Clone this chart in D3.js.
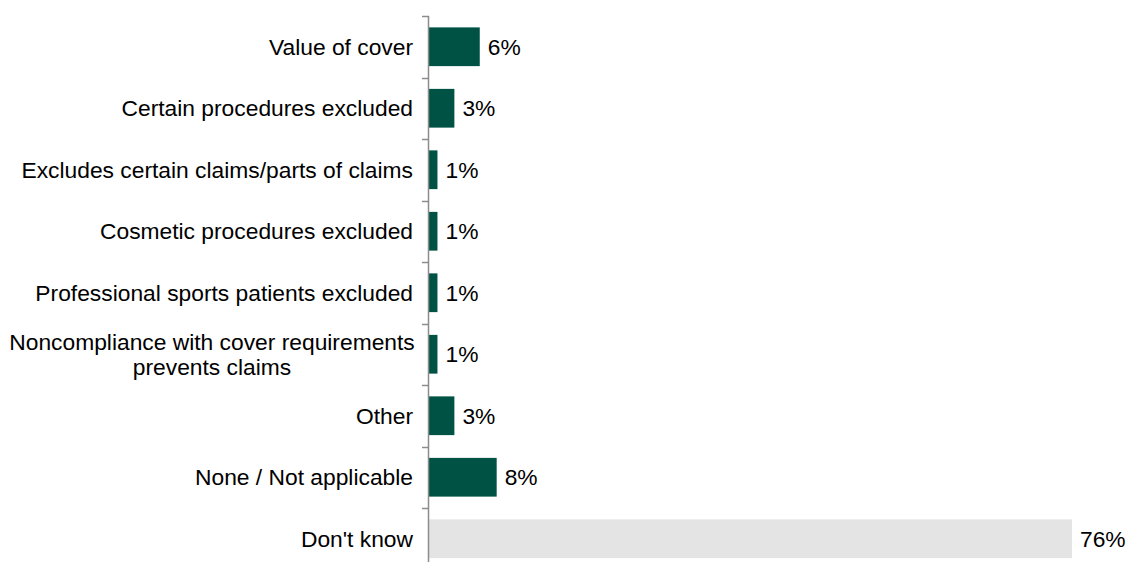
<!DOCTYPE html>
<html>
<head>
<meta charset="utf-8">
<script src="https://cdn.jsdelivr.net/npm/d3@7"></script>
<style>
  html, body { margin: 0; padding: 0; background: #fff; }
  svg { display: block; }
  text { font-family: "Liberation Sans", Arial, sans-serif; fill: #000; }
</style>
</head>
<body>
<svg id="chart" width="1129" height="562"></svg>
<script>
// Reasons / issues with cover (percent of respondents)
const categories = [
  "Value of cover",
  "Certain procedures excluded",
  "Excludes certain claims/parts of claims",
  "Cosmetic procedures excluded",
  "Professional sports patients excluded",
  "Noncompliance with cover requirements\nprevents claims",
  "Other",
  "None / Not applicable",
  "Don't know"
];
const values = [6, 3, 1, 1, 1, 1, 3, 8, 76];
const valueLabels = ["6%", "3%", "1%", "1%", "1%", "1%", "3%", "8%", "76%"];
const highlight = [false, false, false, false, false, false, false, false, true];

const svg = d3.select("#chart");
const axisX = 429;
const plotTop = 16;
const band = 61.5;
const fontSize = 22.8;

const x = d3.scaleLinear().domain([0, 76]).range([axisX, 1072]);
const y = d3.scaleBand()
  .domain(categories)
  .range([plotTop, plotTop + band * categories.length])
  .paddingInner(0.37)
  .paddingOuter(0.185);

// bars
svg.append("g").selectAll("rect")
  .data(categories)
  .join("rect")
  .attr("x", x(0))
  .attr("y", d => y(d))
  .attr("width", (d, i) => x(values[i]) - x(0))
  .attr("height", y.bandwidth())
  .attr("fill", (d, i) => highlight[i] ? "#e4e4e4" : "#005344");

// value labels
svg.append("g").selectAll("text")
  .data(categories)
  .join("text")
  .attr("x", (d, i) => x(values[i]) + 8)
  .attr("y", d => y(d) + y.bandwidth() / 2)
  .attr("dy", "0.34em")
  .attr("font-size", fontSize)
  .text((d, i) => valueLabels[i]);

// vertical axis line with ticks between categories
const axisG = svg.append("g");
axisG.append("line")
  .attr("x1", axisX - 0.5).attr("x2", axisX - 0.5)
  .attr("y1", plotTop).attr("y2", 562)
  .attr("stroke", "#8c8c8c").attr("stroke-width", 1.5);
const tickYs = d3.range(categories.length + 1).map(i => plotTop + i * band);
axisG.selectAll("line.tick")
  .data(tickYs)
  .join("line")
  .attr("class", "tick")
  .attr("x1", axisX - 7).attr("x2", axisX)
  .attr("y1", d => Math.round(d) + 0.5).attr("y2", d => Math.round(d) + 0.5)
  .attr("stroke", "#8c8c8c").attr("stroke-width", 1.5);

// category labels (right-aligned, multi-line centred)
const labelG = svg.append("g");
categories.forEach(c => {
  const lines = c.split("\n");
  const cy = y(c) + y.bandwidth() / 2;
  const lh = 25;
  const t = labelG.append("text")
    .attr("font-size", fontSize)
    .attr("text-anchor", lines.length > 1 ? "middle" : "end");
  const xPos = lines.length > 1 ? 212 : 413;
  lines.forEach((ln, k) => {
    t.append("tspan")
      .attr("x", xPos)
      .attr("y", cy + (k - (lines.length - 1) / 2) * lh)
      .attr("dy", "0.34em")
      .text(ln);
  });
});
</script>
</body>
</html>
